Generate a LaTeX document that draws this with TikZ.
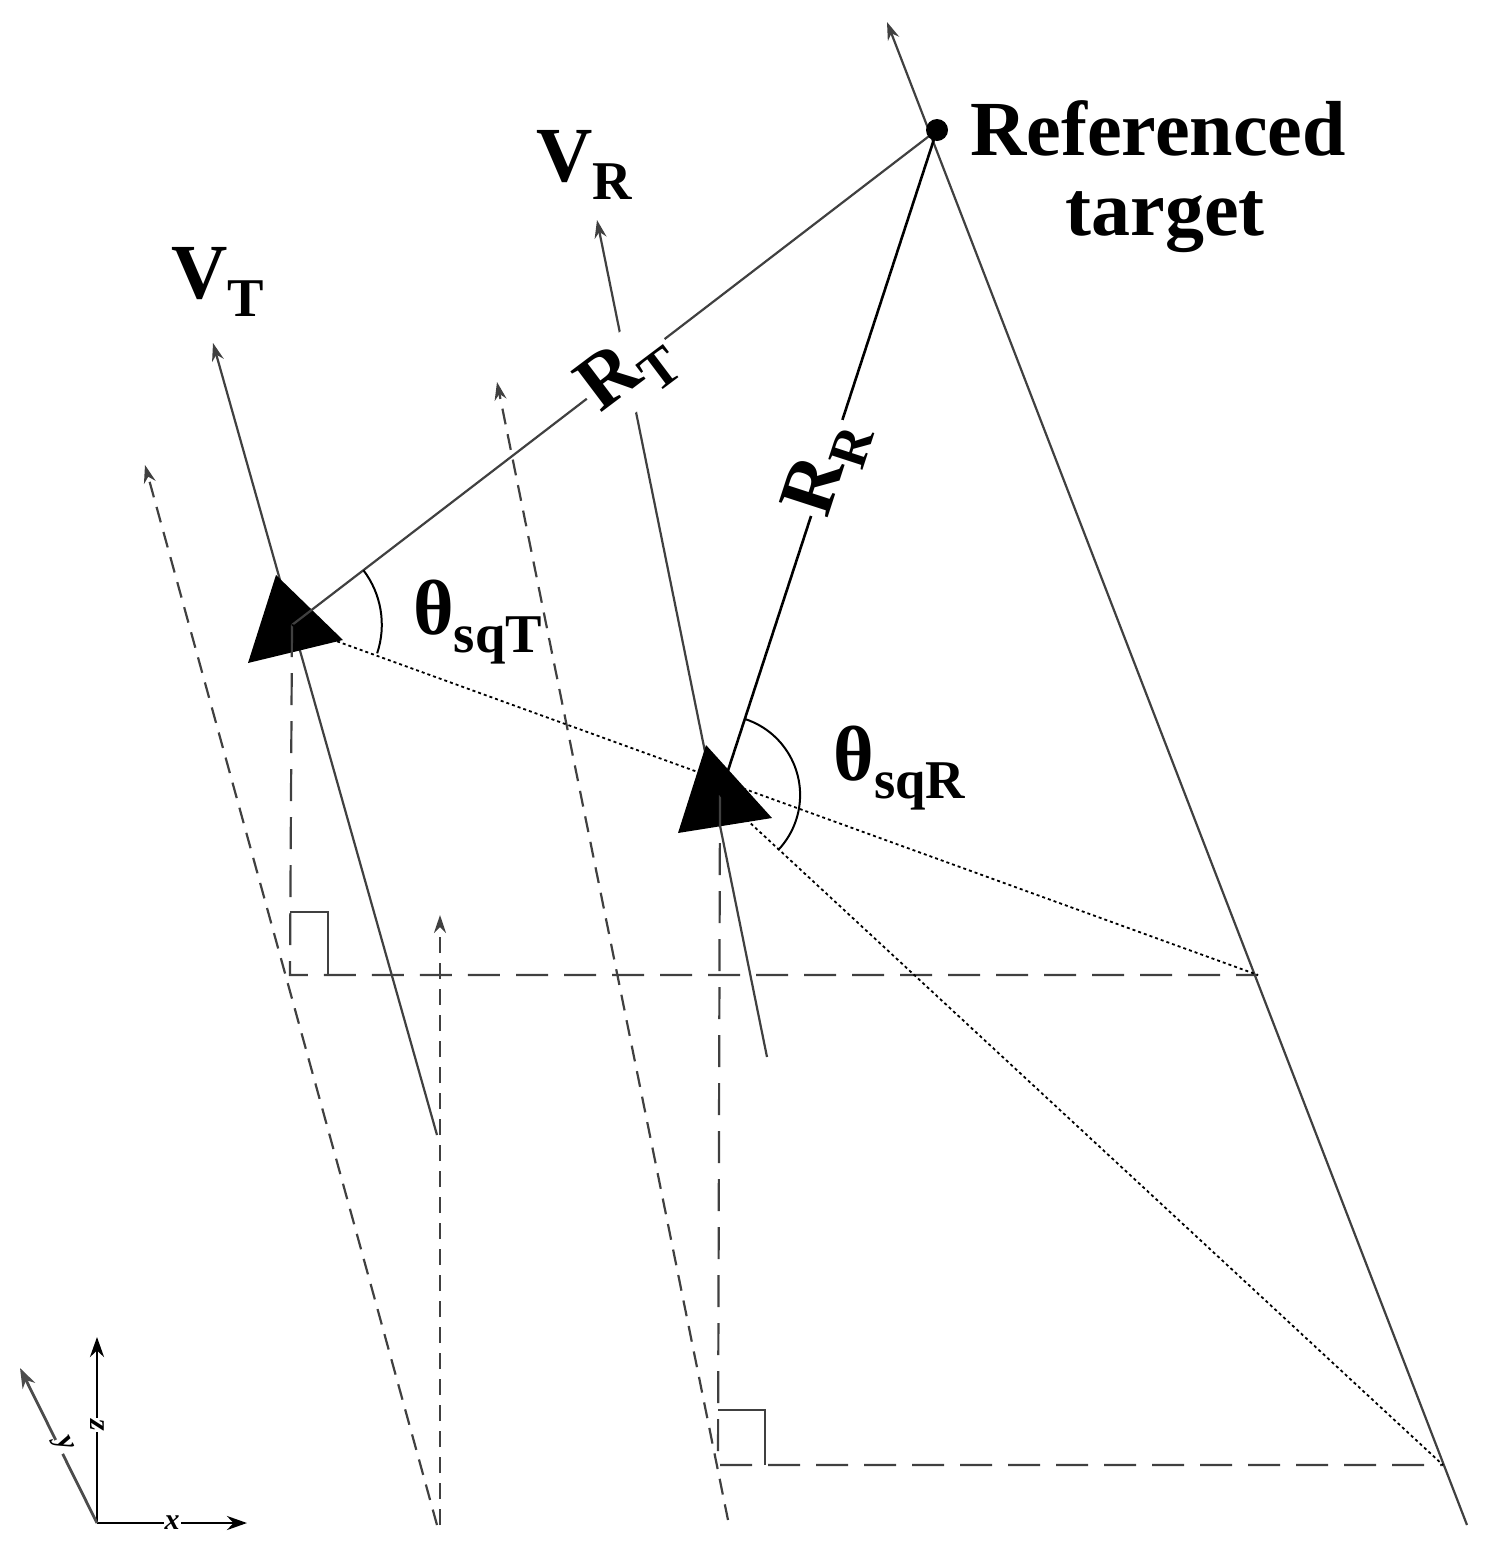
\documentclass[tikz,border=0pt]{standalone}
\usepackage{fontspec}
\setmainfont{Liberation Serif}
\usetikzlibrary{arrows.meta,calc}
\begin{document}
\begin{tikzpicture}[x=0.5pt,y=-0.5pt,
  ln/.style={draw=black!75,line width=1.1pt},
  arr/.style={ln,-{Stealth[length=9pt,width=6pt]}},
  dsh/.style={ln,dash pattern=on 8pt off 5pt},
  ldsh/.style={ln,dash pattern=on 16pt off 8pt},
  dot/.style={draw=black,line width=0.9pt,dash pattern=on 1.5pt off 1.5pt},
  lbl/.style={font=\fontsize{39}{44}\selectfont\bfseries,inner sep=1pt},
  ax/.style={draw=black,line width=1.4pt,-{Stealth[length=10pt,width=7pt]}}]
\useasboundingbox (0,0) rectangle (1504,1553);
% key points
\coordinate (T) at (937,130);
\coordinate (Tx) at (292,625);
\coordinate (Rx) at (720,795);
\coordinate (P1) at (1258,975);
\coordinate (P2) at (1443,1465);
\coordinate (C1) at (290,975);
\coordinate (C2) at (718,1465);
% long line
\coordinate (Ltop) at (887,22);
\coordinate (Lbot) at (1467,1525);
\draw[arr] (Lbot) -- (Ltop);
% dashed lines
\coordinate (D1b) at (437,1525); \coordinate (D1t) at (145,465);
\coordinate (D2b) at (728,1520); \coordinate (D2t) at (497,382);
\coordinate (D3b) at (440,1525); \coordinate (D3t) at (440,915);
\draw[dsh,-{Stealth[length=9pt,width=6pt]}] (D1b) -- (D1t);
\draw[dsh,-{Stealth[length=9pt,width=6pt]}] (D2b) -- (D2t);
\draw[dsh,-{Stealth[length=9pt,width=6pt]}] (D3b) -- (D3t);
% velocity arrows
\coordinate (VTb) at (437,1135); \coordinate (VTt) at (213,343);
\coordinate (VRb) at (767,1057); \coordinate (VRt) at (597,220);
\draw[arr] (VTb) -- (VTt);
\draw[arr] (VRb) -- (VRt);
% triangles
\fill[black] (276,575) -- (248,663) -- (343,640) -- cycle;
\fill[black] (706,745) -- (678,833) -- (772,818) -- cycle;
% dashed projections
\draw[ldsh] (Tx) -- (C1) -- (P1);
\draw[ldsh] (Rx) -- (C2) -- (P2);
\draw[ln,line width=0.9pt] (290,912) -- (328,912) -- (328,975);
\draw[ln,line width=0.9pt] (718,1410) -- (765,1410) -- (765,1465);
% ranges
\draw[ln] (Tx) -- (T);
\draw[ln,draw=black,line width=1.3pt] (Rx) -- (T);
\fill[black] (T) circle (11);
% dotted
\draw[dot] (Tx) -- (P1);
\draw[dot] (Rx) -- (P2);
% angle arcs
\draw[black,line width=1pt] ($(Tx)!45pt!(T)$) arc[start angle=37.3,end angle=-18.5,radius=45pt];
\draw[black,line width=1pt] ($(Rx)!40pt!(T)$) arc[start angle=72,end angle=-43.5,radius=40pt];
% labels
\node[lbl,anchor=west] at (968,128) {Referenced};
\node[lbl] at (1165,222) {target};
\node[lbl] at (218,282) {V\textsubscript{T}};
\node[lbl] at (585,165) {V\textsubscript{R}};
\node[lbl,rotate=37,fill=white] at (628,372) {R\textsubscript{T}};
\node[lbl,rotate=72,fill=white] at (827,468) {R\textsubscript{R}};
\node[lbl] at (478,622) {θ\textsubscript{sqT}};
\node[lbl] at (900,768) {θ\textsubscript{sqR}};
% axes
\coordinate (O) at (97,1523);
\draw[ax] (O) -- (97,1337);
\draw[ax] (O) -- (247,1523);
\draw[ax,draw=black!70] (O) -- (20,1368);
\node[font=\fontsize{15}{16}\selectfont\bfseries\itshape,fill=white,inner sep=0.5pt] at (172,1523) {x};
\node[font=\fontsize{15}{16}\selectfont\bfseries\itshape,fill=white,inner sep=0.5pt,rotate=-90] at (97,1425) {z};
\node[font=\fontsize{15}{16}\selectfont\bfseries\itshape,fill=white,inner sep=0.5pt,rotate=-63] at (63,1445) {y};
\end{tikzpicture}
\end{document}
